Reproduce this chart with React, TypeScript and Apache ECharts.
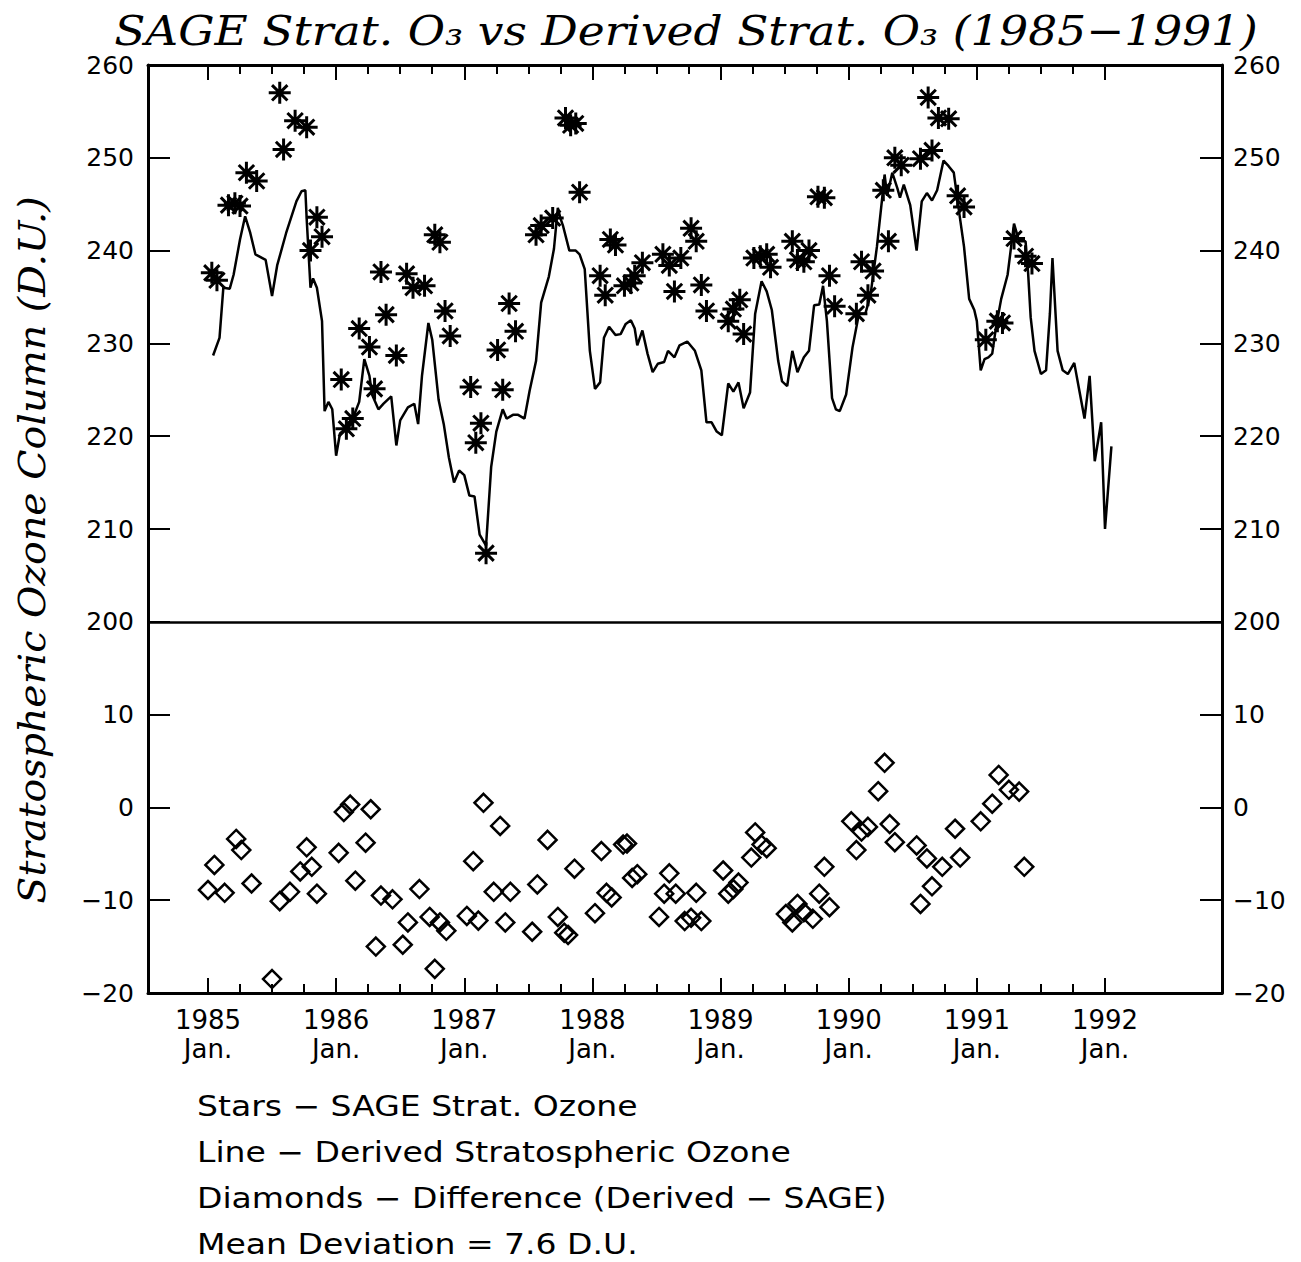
import React, { useEffect, useRef } from "react";
import * as echarts from "echarts";

// SAGE stratospheric ozone (stars), D.U.
const starDates = [
  1985.03, 1985.07, 1985.16, 1985.21, 1985.25, 1985.30, 1985.38, 1985.56, 1985.59, 1985.68, 1985.77, 1985.80, 1985.85, 1985.89,
  1986.04, 1986.08, 1986.13, 1986.18, 1986.26, 1986.30, 1986.35, 1986.39, 1986.47, 1986.55, 1986.60, 1986.69, 1986.77, 1986.81, 1986.85, 1986.89,
  1987.05, 1987.09, 1987.13, 1987.17, 1987.26, 1987.30, 1987.35, 1987.40, 1987.56, 1987.60, 1987.69, 1987.79, 1987.83, 1987.87, 1987.90,
  1988.06, 1988.10, 1988.14, 1988.18, 1988.25, 1988.30, 1988.33, 1988.39, 1988.55, 1988.60, 1988.64, 1988.69, 1988.77, 1988.81, 1988.85, 1988.89,
  1989.06, 1989.10, 1989.15, 1989.18, 1989.26, 1989.31, 1989.36, 1989.39, 1989.56, 1989.60, 1989.65, 1989.69, 1989.76, 1989.81, 1989.85, 1989.89,
  1990.06, 1990.10, 1990.15, 1990.19, 1990.27, 1990.31, 1990.36, 1990.41, 1990.56, 1990.62, 1990.65, 1990.70, 1990.78, 1990.85, 1990.90,
  1991.07, 1991.16, 1991.20, 1991.29, 1991.38, 1991.43,
];
const starValues = [
  237.6, 236.8, 244.9, 245.1, 244.8, 248.4, 247.5, 257.0, 250.9, 254.0, 253.3, 240.0, 243.6, 241.5,
  226.1, 220.8, 221.9, 231.6, 229.6, 225.1, 237.7, 233.1, 228.7, 237.5, 236.0, 236.2, 241.7, 240.9, 233.5, 230.8,
  225.3, 219.3, 221.4, 207.4, 229.3, 225.0, 234.3, 231.3, 241.7, 242.7, 243.5, 254.3, 253.5, 253.7, 246.3,
  237.3, 235.2, 241.2, 240.6, 236.2, 236.5, 237.3, 238.7, 239.6, 238.4, 235.6, 239.2, 242.4, 241.0, 236.3, 233.5,
  232.4, 233.7, 234.7, 231.0, 239.2, 239.4, 239.6, 238.2, 241.0, 239.0, 238.8, 240.0, 245.8, 245.7, 237.3, 234.0,
  233.2, 238.8, 235.2, 237.8, 246.5, 241.0, 250.0, 249.2, 249.9, 256.5, 250.8, 254.3, 254.2, 245.9, 244.7,
  230.4, 232.4, 232.2, 241.3, 239.4, 238.6,
];

// Difference (Derived - SAGE), diamonds, D.U.
const diffDates = [
  1985.00, 1985.05, 1985.13, 1985.22, 1985.26, 1985.34, 1985.50, 1985.56, 1985.64, 1985.72, 1985.77, 1985.81, 1985.85,
  1986.02, 1986.06, 1986.11, 1986.15, 1986.23, 1986.27, 1986.31, 1986.35, 1986.44, 1986.52, 1986.56, 1986.65, 1986.73, 1986.77, 1986.81, 1986.86,
  1987.02, 1987.07, 1987.11, 1987.15, 1987.23, 1987.28, 1987.32, 1987.36, 1987.53, 1987.57, 1987.65, 1987.73, 1987.78, 1987.81, 1987.86,
  1988.02, 1988.07, 1988.11, 1988.15, 1988.24, 1988.27, 1988.31, 1988.35, 1988.52, 1988.56, 1988.60, 1988.65, 1988.72, 1988.77, 1988.81, 1988.85,
  1989.02, 1989.06, 1989.10, 1989.14, 1989.24, 1989.27, 1989.32, 1989.36, 1989.51, 1989.56, 1989.60, 1989.65, 1989.72, 1989.77, 1989.81, 1989.85,
  1990.02, 1990.06, 1990.10, 1990.15, 1990.23, 1990.28, 1990.32, 1990.36, 1990.53, 1990.56, 1990.61, 1990.65, 1990.73, 1990.83, 1990.87,
  1991.03, 1991.12, 1991.17, 1991.25, 1991.33, 1991.37,
];
const diffValues = [
  -8.9, -6.2, -9.2, -3.4, -4.6, -8.2, -18.5, -10.1, -9.1, -6.9, -4.3, -6.4, -9.3,
  -4.9, -0.5, 0.3, -7.9, -3.8, -0.2, -15.0, -9.5, -9.9, -14.8, -12.4, -8.8, -11.8, -17.4, -12.4, -13.3,
  -11.7, -5.8, -12.2, 0.5, -9.1, -2.0, -12.4, -9.1, -13.4, -8.3, -3.5, -11.8, -13.5, -13.75, -6.6,
  -11.4, -4.7, -9.2, -9.7, -4.0, -3.9, -7.6, -7.2, -11.8, -9.3, -7.1, -9.3, -12.25, -11.9, -9.2, -12.25,
  -6.8, -9.3, -8.8, -8.1, -5.4, -2.7, -4.0, -4.4, -11.5, -12.4, -10.4, -11.3, -12.0, -9.3, -6.4, -10.75,
  -1.5, -4.6, -2.6, -2.1, 1.75, 4.8, -1.8, -3.75, -4.1, -10.4, -5.5, -8.5, -6.4, -2.3, -5.4,
  -1.5, 0.4, 3.5, 1.9, 1.7, -6.4,
];

// Derived stratospheric ozone (line), D.U.
const lineDates = [
  1985.04, 1985.09, 1985.12, 1985.17, 1985.20, 1985.25, 1985.29, 1985.33, 1985.37, 1985.45, 1985.50, 1985.54, 1985.61, 1985.69,
  1985.73, 1985.76, 1985.77, 1985.78, 1985.80, 1985.82, 1985.85, 1985.89, 1985.91, 1985.94, 1985.97,
  1986.00, 1986.03, 1986.08, 1986.13, 1986.18, 1986.22, 1986.26, 1986.28, 1986.33, 1986.37, 1986.43, 1986.47, 1986.50, 1986.56,
  1986.61, 1986.64, 1986.67, 1986.72, 1986.75, 1986.80, 1986.84, 1986.88, 1986.92, 1986.96,
  1987.00, 1987.04, 1987.08, 1987.12, 1987.17, 1987.21, 1987.25, 1987.30, 1987.33, 1987.38, 1987.42, 1987.47, 1987.51, 1987.56,
  1987.60, 1987.66, 1987.70, 1987.73, 1987.75, 1987.77, 1987.82, 1987.87, 1987.90, 1987.94, 1987.98,
  1988.02, 1988.06, 1988.09, 1988.13, 1988.18, 1988.22, 1988.26, 1988.30, 1988.33, 1988.35, 1988.39, 1988.43, 1988.47, 1988.51,
  1988.56, 1988.59, 1988.64, 1988.68, 1988.74, 1988.80, 1988.85, 1988.89, 1988.93, 1988.97,
  1989.01, 1989.06, 1989.10, 1989.14, 1989.18, 1989.23, 1989.27, 1989.32, 1989.36, 1989.40, 1989.45, 1989.48, 1989.52, 1989.56,
  1989.60, 1989.65, 1989.69, 1989.73, 1989.77, 1989.80, 1989.83, 1989.87, 1989.90, 1989.93, 1989.98,
  1990.03, 1990.08, 1990.13, 1990.17, 1990.22, 1990.26, 1990.28, 1990.30, 1990.34, 1990.38, 1990.40, 1990.43, 1990.48, 1990.53,
  1990.57, 1990.61, 1990.65, 1990.69, 1990.74, 1990.78, 1990.82, 1990.86, 1990.90, 1990.94, 1990.98,
  1991.00, 1991.03, 1991.06, 1991.09, 1991.12, 1991.15, 1991.19, 1991.24, 1991.29, 1991.33, 1991.38, 1991.40, 1991.42, 1991.45,
  1991.50, 1991.54, 1991.57, 1991.59, 1991.63, 1991.67, 1991.71, 1991.76, 1991.80, 1991.84, 1991.88, 1991.92, 1991.97,
  1992.00, 1992.05,
];
const lineValues = [
  228.7, 230.6, 236.0, 235.9, 237.4, 241.2, 243.7, 241.9, 239.6, 239.0, 235.1, 238.4, 241.9, 245.3,
  246.4, 246.5, 243.5, 241.0, 236.0, 237.0, 236.0, 232.4, 222.7, 223.7, 222.9,
  217.9, 220.3, 220.9, 221.9, 223.7, 228.3, 226.5, 224.5, 222.9, 223.5, 224.3, 219.0, 221.7, 223.1,
  223.5, 221.3, 226.5, 232.2, 230.4, 223.9, 221.3, 217.7, 215.0, 216.3,
  215.8, 213.6, 213.5, 209.4, 208.2, 216.7, 220.5, 222.9, 221.9, 222.3, 222.3, 221.9, 224.9, 228.1,
  234.4, 237.2, 240.2, 244.6, 243.5, 242.7, 240.0, 240.0, 239.6, 238.0, 229.2,
  225.1, 225.8, 230.6, 231.8, 230.9, 231.0, 232.1, 232.5, 231.6, 229.8, 231.4, 228.9, 226.9, 227.8,
  228.0, 229.2, 228.5, 229.8, 230.2, 229.2, 227.1, 221.5, 221.5, 220.5,
  220.1, 225.7, 224.8, 225.8, 223.0, 224.7, 233.2, 236.7, 235.6, 233.6, 228.1, 225.9, 225.4, 229.2,
  226.9, 228.5, 229.2, 234.1, 234.2, 236.2, 232.4, 224.1, 222.9, 222.7, 224.5,
  229.6, 233.2, 233.2, 235.2, 240.4, 245.5, 248.2, 245.9, 248.4, 246.7, 245.7, 247.1, 244.9, 240.0,
  245.3, 246.2, 245.4, 246.5, 249.7, 249.1, 248.4, 244.3, 240.4, 234.8, 233.6,
  232.4, 227.1, 228.3, 228.5, 228.9, 231.8, 234.8, 237.4, 242.9, 241.0, 241.0, 237.6, 232.8, 229.2,
  226.7, 227.1, 233.2, 239.2, 229.2, 227.1, 226.7, 227.9, 224.9, 221.9, 226.5, 217.3, 221.5,
  210.0, 218.9,
];

const yearTicks = [1985, 1986, 1987, 1988, 1989, 1990, 1991, 1992];
const quarterTicks: number[] = [];
yearTicks.forEach((y, i) => {
  quarterTicks.push(y);
  if (i < yearTicks.length - 1) quarterTicks.push(y + 0.25, y + 0.5, y + 0.75);
});

const titleText = "SAGE Strat. O\u2083 vs Derived Strat. O\u2083 (1985\u22121991)";
const yAxisTitle = "Stratospheric Ozone Column (D.U.)";
const legendLines = [
  "Stars \u2212 SAGE Strat. Ozone",
  "Line \u2212 Derived Stratospheric Ozone",
  "Diamonds \u2212 Difference (Derived \u2212 SAGE)",
  "Mean Deviation = 7.6 D.U.",
];

// differences are drawn on the lower part of the broken axis: d -> d + 180
const DIFF_OFFSET = 180;
const X_MIN = 1984.532;
const X_MAX = 1992.913;

const SANS = "DejaVu Sans";
const SERIF = "DejaVu Serif";
const STAR = "path://M10,0L10,20M0,10L20,10M3,3L17,17M3,17L17,3";

function yLabel(v: number): string {
  if (v >= 200) return String(v);
  const d = v - DIFF_OFFSET;
  return d < 0 ? "\u2212" + Math.abs(d) : String(d);
}

export default function App() {
  const ref = useRef<HTMLDivElement>(null);
  useEffect(() => {
    if (!ref.current) return;
    const chart = echarts.init(ref.current, null, { renderer: "svg" });
    const black = "#000";
    const xBase = {
      type: "value",
      min: X_MIN,
      max: X_MAX,
      splitLine: { show: false },
    };
    const yBase = {
      type: "value",
      min: 160,
      max: 260,
      interval: 10,
      splitLine: { show: false },
      axisLine: { show: true, lineStyle: { color: black, width: 3 } },
      axisTick: { show: true, inside: true, length: 22, lineStyle: { color: black, width: 2 } },
      axisLabel: {
        formatter: yLabel,
        color: black,
        fontSize: 25,
        fontFamily: SANS,
      },
    };
    chart.setOption({
      animation: false,
      backgroundColor: "#fff",
      grid: { left: 148, top: 65, width: 1074, height: 928, containLabel: false },
      xAxis: [
        {
          ...xBase,
          position: "bottom",
          axisLine: { show: true, onZero: false, lineStyle: { color: black, width: 3 } },
          axisTick: { show: true, inside: true, length: 9, customValues: quarterTicks, lineStyle: { color: black, width: 2 } },
          axisLabel: {
            show: true,
            customValues: yearTicks,
            formatter: (v: number) => `${Math.round(v)}\nJan.`,
            color: black,
            fontSize: 26,
            lineHeight: 29,
            fontFamily: SANS,
            margin: 12,
          },
        },
        {
          ...xBase,
          position: "bottom",
          axisLine: { show: false, onZero: false },
          axisTick: { show: true, inside: true, length: 15, customValues: yearTicks, lineStyle: { color: black, width: 2 } },
          axisLabel: { show: false },
        },
        {
          ...xBase,
          position: "top",
          axisLine: { show: true, onZero: false, lineStyle: { color: black, width: 3 } },
          axisTick: { show: true, inside: true, length: 9, customValues: quarterTicks, lineStyle: { color: black, width: 2 } },
          axisLabel: { show: false },
        },
        {
          ...xBase,
          position: "top",
          axisLine: { show: false, onZero: false },
          axisTick: { show: true, inside: true, length: 15, customValues: yearTicks, lineStyle: { color: black, width: 2 } },
          axisLabel: { show: false },
        },
      ],
      yAxis: [
        { ...yBase, position: "left", axisLabel: { ...yBase.axisLabel, margin: 14 } },
        { ...yBase, position: "right", axisLabel: { ...yBase.axisLabel, margin: 11 } },
      ],
      graphic: [
        {
          type: "text",
          x: 686,
          y: 31,
          scaleX: 1.11,
          style: {
            text: titleText,
            font: `italic 41px "${SERIF}"`,
            fill: black,
            textAlign: "center",
            textVerticalAlign: "middle",
          },
        },
        {
          type: "text",
          x: 32,
          y: 550,
          rotation: Math.PI / 2,
          scaleX: 1.04,
          style: {
            text: yAxisTitle,
            font: `italic 38px "${SERIF}"`,
            fill: black,
            textAlign: "center",
            textVerticalAlign: "middle",
          },
        },
        ...legendLines.map((t, i) => ({
          type: "text",
          x: 197,
          y: 1106 + i * 46,
          scaleX: 1.18,
          style: {
            text: t,
            font: `28px "${SANS}"`,
            fill: black,
            textAlign: "left",
            textVerticalAlign: "middle",
          },
        })),
      ],
      series: [
        {
          name: "Derived",
          type: "line",
          xAxisIndex: 0,
          yAxisIndex: 0,
          data: lineDates.map((d, i) => [d, lineValues[i]]),
          showSymbol: false,
          symbol: "none",
          lineStyle: { color: black, width: 2.5 },
          z: 3,
          markLine: {
            silent: true,
            symbol: "none",
            label: { show: false },
            lineStyle: { color: black, width: 2.5, type: "solid" },
            data: [{ yAxis: 200 }],
          },
        },
        {
          name: "SAGE",
          type: "scatter",
          xAxisIndex: 0,
          yAxisIndex: 0,
          data: starDates.map((d, i) => [d, starValues[i]]),
          symbol: STAR,
          symbolSize: 22,
          itemStyle: { color: black, borderColor: black, borderWidth: 3, opacity: 1 },
          z: 4,
        },
        {
          name: "Difference",
          type: "scatter",
          xAxisIndex: 0,
          yAxisIndex: 0,
          data: diffDates.map((d, i) => [d, diffValues[i] + DIFF_OFFSET]),
          symbol: "diamond",
          symbolSize: [18, 18],
          itemStyle: { color: "rgba(0,0,0,0)", borderColor: black, borderWidth: 2.5, opacity: 1 },
          z: 4,
        },
      ],
    });
    return () => chart.dispose();
  }, []);
  return (
    <div
      ref={ref}
      style={{ position: "absolute", left: 0, top: 0, width: 1301, height: 1262, background: "#fff" }}
    />
  );
}
